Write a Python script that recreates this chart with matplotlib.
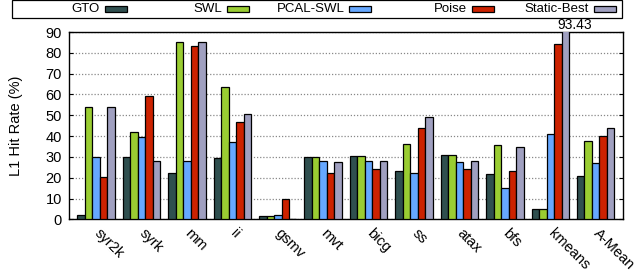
import matplotlib
matplotlib.use('Agg')
import matplotlib.pyplot as plt
import matplotlib.transforms as mtransforms
import numpy as np
from matplotlib.patches import Rectangle

plt.rcParams['font.family'] = ['Liberation Sans', 'DejaVu Sans']

benchmarks = ['syr2k', 'syrk', 'mm', 'ii', 'gsmv', 'mvt', 'bicg', 'ss',
              'atax', 'bfs', 'kmeans', 'A-Mean']
schemes = ['GTO', 'SWL', 'PCAL-SWL', 'Poise', 'Static-Best']
colors = ['#2f4f4f', '#9acd32', '#66a8ff', '#cc2200', '#a0a0c0']

gto = [2.1, 30.0, 22.2, 29.6, 1.6, 30.0, 30.5, 23.3, 31.0, 21.9, 5.1, 20.8]
swl = [54.0, 41.9, 85.0, 63.6, 1.6, 30.0, 30.5, 36.3, 31.0, 35.5, 5.1, 37.7]
pcal_swl = [30.0, 39.6, 28.0, 37.2, 2.2, 28.0, 28.0, 22.4, 27.5, 15.0, 40.9, 27.2]
poise = [20.4, 59.1, 83.2, 46.6, 9.9, 22.4, 24.1, 43.9, 24.1, 23.3, 84.3, 40.1]
static_best = [54.0, 28.1, 85.0, 50.5, 0.3, 27.6, 28.0, 49.2, 28.1, 35.0, 93.43, 43.8]
series = [gto, swl, pcal_swl, poise, static_best]

fig = plt.figure(figsize=(6.37, 2.76), dpi=100)
ax = fig.add_axes([0.108, 0.205, 0.87, 0.679])

x = np.arange(len(benchmarks))
w = 0.165
for k, (vals, c) in enumerate(zip(series, colors)):
    ax.bar(x + (k - 2) * w, vals, w, color=c, edgecolor='black', linewidth=0.9, zorder=3)

ax.set_xlim(-0.6, len(benchmarks) - 0.4)
ax.set_ylim(0, 90)
ax.set_yticks(range(0, 91, 10))
ax.tick_params(axis='y', direction='in', length=3, labelsize=10.5, right=True, pad=5)
ax.tick_params(axis='x', length=0, pad=5)
ax.set_xticks(x)
ax.set_xticklabels(benchmarks, rotation=-45, ha='left', va='top',
                   rotation_mode='anchor', fontsize=10.5)
shift = mtransforms.ScaledTranslation(5 / 100, 0, fig.dpi_scale_trans)
for lbl in ax.get_xticklabels():
    lbl.set_transform(lbl.get_transform() + shift)
ax.yaxis.grid(True, linestyle=(0, (1, 1.5)), color='#888888', linewidth=0.9, zorder=0)
ax.set_ylabel('L1 Hit Rate (%)', fontsize=10.5, labelpad=16)
for s in ax.spines.values():
    s.set_linewidth(1.0)

# value label for the clipped bar
ax.annotate(f'{static_best[10]:.2f}', xy=(x[10] + 2 * w + 0.2, 90), xytext=(0, 2.5),
            textcoords='offset points', ha='center', va='baseline', fontsize=10,
            annotation_clip=False)

# legend box drawn in gnuplot style: label then swatch
W, H = 637.0, 276.0
fig.add_artist(Rectangle((12 / W, 1 - 17.5 / H), 610 / W, 17 / H, transform=fig.transFigure,
                         fill=False, edgecolor='black', linewidth=0.9))
for i, (name, c) in enumerate(zip(schemes, colors)):
    px = 105 + 122.2 * i
    fig.text((px - 5) / W, 1 - 8.8 / H, name, ha='right', va='center', fontsize=9.5)
    fig.add_artist(Rectangle((px / W, 1 - 12 / H), 22 / W, 6 / H, transform=fig.transFigure,
                             facecolor=c, edgecolor='black', linewidth=0.9))

fig.savefig('out.png', dpi=100)
